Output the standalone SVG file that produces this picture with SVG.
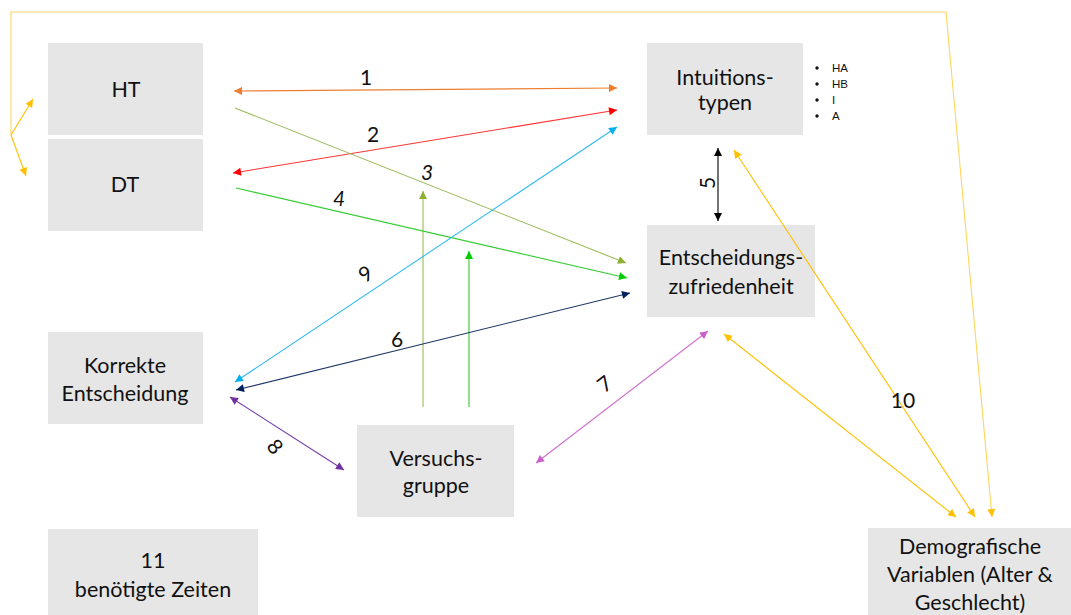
<svg xmlns="http://www.w3.org/2000/svg" width="1071" height="615" viewBox="0 0 1071 615">
<style>
.box{fill:#E6E6E6;}
.t{font-family:Lato,"Liberation Sans",sans-serif;font-size:21.5px;fill:#111;text-anchor:middle;}
.lbl{font-family:Lato,"Liberation Sans",sans-serif;font-size:21px;fill:#111;text-anchor:middle;dominant-baseline:central;}
.bl{font-family:"Liberation Sans",Arial,sans-serif;font-size:11.5px;fill:#111;}
.bu{fill:#111;}
.c{fill:none;stroke-width:1.1;}
</style>
<defs>
<marker id="mOr" viewBox="0 0 10 10" refX="10" refY="5" markerWidth="9" markerHeight="8" markerUnits="userSpaceOnUse" orient="auto-start-reverse"><path d="M0,0L10,5L0,10z" fill="#ED7D31"/></marker>
<marker id="mRd" viewBox="0 0 10 10" refX="10" refY="5" markerWidth="9" markerHeight="8" markerUnits="userSpaceOnUse" orient="auto-start-reverse"><path d="M0,0L10,5L0,10z" fill="#FF0000"/></marker>
<marker id="mOl" viewBox="0 0 10 10" refX="10" refY="5" markerWidth="9" markerHeight="8" markerUnits="userSpaceOnUse" orient="auto-start-reverse"><path d="M0,0L10,5L0,10z" fill="#8DB033"/></marker>
<marker id="mGr" viewBox="0 0 10 10" refX="10" refY="5" markerWidth="9" markerHeight="8" markerUnits="userSpaceOnUse" orient="auto-start-reverse"><path d="M0,0L10,5L0,10z" fill="#00CC00"/></marker>
<marker id="mBl" viewBox="0 0 10 10" refX="10" refY="5" markerWidth="9" markerHeight="8" markerUnits="userSpaceOnUse" orient="auto-start-reverse"><path d="M0,0L10,5L0,10z" fill="#00B0F0"/></marker>
<marker id="mNv" viewBox="0 0 10 10" refX="10" refY="5" markerWidth="9" markerHeight="8" markerUnits="userSpaceOnUse" orient="auto-start-reverse"><path d="M0,0L10,5L0,10z" fill="#002060"/></marker>
<marker id="mPu" viewBox="0 0 10 10" refX="10" refY="5" markerWidth="9" markerHeight="8" markerUnits="userSpaceOnUse" orient="auto-start-reverse"><path d="M0,0L10,5L0,10z" fill="#7030A0"/></marker>
<marker id="mOc" viewBox="0 0 10 10" refX="10" refY="5" markerWidth="9" markerHeight="8" markerUnits="userSpaceOnUse" orient="auto-start-reverse"><path d="M0,0L10,5L0,10z" fill="#CC5FCC"/></marker>
<marker id="mBk" viewBox="0 0 10 10" refX="10" refY="5" markerWidth="9" markerHeight="8" markerUnits="userSpaceOnUse" orient="auto-start-reverse"><path d="M0,0L10,5L0,10z" fill="#000"/></marker>
<marker id="mGd" viewBox="0 0 10 10" refX="10" refY="5" markerWidth="9" markerHeight="8" markerUnits="userSpaceOnUse" orient="auto-start-reverse"><path d="M0,0L10,5L0,10z" fill="#FFC000"/></marker>
</defs>

<g id="node-HT"><rect class="box" x="48" y="43" width="155" height="92"/><text class="t" x="126" y="97">HT</text></g>
<g id="node-DT"><rect class="box" x="48" y="139" width="155" height="92"/><text class="t" x="125" y="192">DT</text></g>
<g id="node-Korrekte"><rect class="box" x="48" y="332" width="155" height="92"/><text class="t" x="125" y="373">Korrekte</text><text class="t" x="125" y="401">Entscheidung</text></g>
<g id="node-Intuitionstypen"><rect class="box" x="647" y="43" width="156" height="92"/><text class="t" x="725" y="85">Intuitions-</text><text class="t" x="725" y="110">typen</text>
<circle class="bu" cx="817" cy="68" r="1.7"/><text class="bl" x="832" y="72">HA</text>
<circle class="bu" cx="817" cy="84" r="1.7"/><text class="bl" x="832" y="88">HB</text>
<circle class="bu" cx="817" cy="100" r="1.7"/><text class="bl" x="832" y="104">I</text>
<circle class="bu" cx="817" cy="116" r="1.7"/><text class="bl" x="832" y="120">A</text></g>
<g id="node-Entscheidungszufriedenheit"><rect class="box" x="647" y="225" width="168" height="92"/><text class="t" x="731" y="265">Entscheidungs-</text><text class="t" x="731" y="294">zufriedenheit</text></g>
<g id="node-Versuchsgruppe"><rect class="box" x="357" y="425" width="157" height="92"/><text class="t" x="436" y="466">Versuchs-</text><text class="t" x="436" y="493">gruppe</text></g>
<g id="node-Zeiten"><rect class="box" x="48" y="529" width="210" height="86"/><text class="t" x="153" y="568">11</text><text class="t" x="153" y="597">benötigte Zeiten</text></g>
<g id="node-Demografische"><rect class="box" x="868" y="528" width="203" height="87"/><text class="t" x="970" y="554">Demografische</text><text class="t" x="970" y="582">Variablen (Alter &amp;</text><text class="t" x="970" y="610">Geschlecht)</text></g>

<g id="connectors">
<path class="c" stroke="#ED7D31" d="M234,91L617,88" marker-start="url(#mOr)" marker-end="url(#mOr)"/>
<path class="c" stroke="#FF3333" d="M233,173L617,110" marker-start="url(#mRd)" marker-end="url(#mRd)"/>
<path class="c" stroke="#9BBB59" d="M235,108L626,263" marker-end="url(#mOl)"/>
<path class="c" stroke="#9BBB59" d="M423,407L423,191" marker-end="url(#mOl)"/>
<path class="c" stroke="#33CC33" d="M236,188L627,278" marker-end="url(#mGr)"/>
<path class="c" stroke="#33CC33" d="M469,407L469,251" marker-end="url(#mGr)"/>
<path class="c" stroke="#33BBF0" d="M235,382L617,127" marker-start="url(#mBl)" marker-end="url(#mBl)"/>
<path class="c" stroke="#203868" d="M236,390L630,293" marker-start="url(#mNv)" marker-end="url(#mNv)"/>
<path class="c" stroke="#7A40AA" d="M230,397L344,470" marker-start="url(#mPu)" marker-end="url(#mPu)"/>
<path class="c" stroke="#D070D0" d="M536,463L708,331" marker-start="url(#mOc)" marker-end="url(#mOc)"/>
<path class="c" stroke="#000" d="M718,148L718,221" marker-start="url(#mBk)" marker-end="url(#mBk)"/>
<path class="c" stroke="#FFC000" d="M734,150L975,517" marker-start="url(#mGd)" marker-end="url(#mGd)"/>
<path class="c" stroke="#FFC000" d="M724,334L956,517" marker-start="url(#mGd)" marker-end="url(#mGd)"/>
<path class="c" stroke="#FFD45C" stroke-width="1.5" d="M11,135L11,12L946,12L992,517" marker-end="url(#mGd)"/>
<path class="c" stroke="#FFC000" d="M11,135L33,99" marker-end="url(#mGd)"/>
<path class="c" stroke="#FFC000" d="M11,135L26,176" marker-end="url(#mGd)"/>
<text class="lbl" x="366" y="76">1</text>
<text class="lbl" x="373" y="133">2</text>
<text class="lbl" x="427" y="171" font-style="italic">3</text>
<text class="lbl" x="339" y="197" font-style="italic">4</text>
<text class="lbl" transform="translate(365,273) rotate(-34)">9</text>
<text class="lbl" x="397" y="338">6</text>
<text class="lbl" transform="translate(604,383) rotate(-38)">7</text>
<text class="lbl" transform="translate(276,446) rotate(50)">8</text>
<text class="lbl" transform="translate(706,183) rotate(-90)">5</text>
<text class="lbl" x="903" y="399">10</text>
</g>
</svg>
